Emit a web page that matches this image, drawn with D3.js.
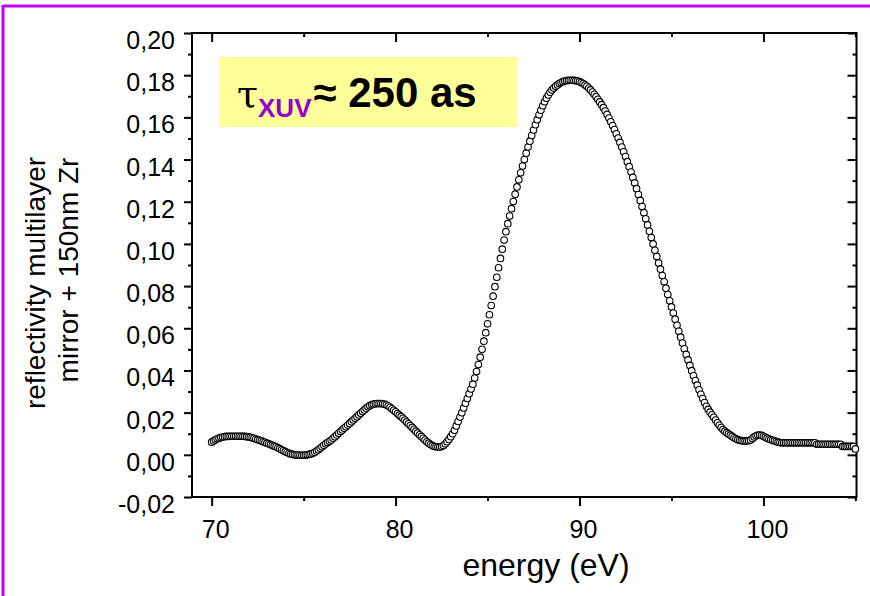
<!DOCTYPE html>
<html><head><meta charset="utf-8">
<script src="https://cdn.jsdelivr.net/npm/d3@7"></script>
<style>
body{margin:0;background:#fff}
svg{display:block}
text{font-family:"Liberation Sans",Arial,Helvetica,sans-serif;fill:#000}
</style>
</head><body><svg id="chart" width="870" height="596"></svg>
<script>
// ---- data ----
const energy = [
70.0,70.1,70.2,70.3,70.4,70.5,70.6,70.7,70.8,70.9,
71.0,71.1,71.2,71.3,71.4,71.5,71.6,71.7,71.8,71.9,
72.0,72.1,72.2,72.3,72.4,72.5,72.6,72.7,72.8,72.9,
73.0,73.1,73.2,73.3,73.4,73.5,73.6,73.7,73.8,73.9,
74.0,74.1,74.2,74.3,74.4,74.5,74.6,74.7,74.8,74.9,
75.0,75.1,75.2,75.3,75.4,75.5,75.6,75.7,75.8,75.9,
76.0,76.1,76.2,76.3,76.4,76.5,76.6,76.7,76.8,76.9,
77.0,77.1,77.2,77.3,77.4,77.5,77.6,77.7,77.8,77.9,
78.0,78.1,78.2,78.3,78.4,78.5,78.6,78.7,78.8,78.9,
79.0,79.1,79.2,79.3,79.4,79.5,79.6,79.7,79.8,79.9,
80.0,80.1,80.2,80.3,80.4,80.5,80.6,80.7,80.8,80.9,
81.0,81.1,81.2,81.3,81.4,81.5,81.6,81.7,81.8,81.9,
82.0,82.1,82.2,82.3,82.4,82.5,82.6,82.7,82.8,82.9,
83.0,83.1,83.2,83.3,83.4,83.5,83.6,83.7,83.8,83.9,
84.0,84.1,84.2,84.3,84.4,84.5,84.6,84.7,84.8,84.9,
85.0,85.1,85.2,85.3,85.4,85.5,85.6,85.7,85.8,85.9,
86.0,86.1,86.2,86.3,86.4,86.5,86.6,86.7,86.8,86.9,
87.0,87.1,87.2,87.3,87.4,87.5,87.6,87.7,87.8,87.9,
88.0,88.1,88.2,88.3,88.4,88.5,88.6,88.7,88.8,88.9,
89.0,89.1,89.2,89.3,89.4,89.5,89.6,89.7,89.8,89.9,
90.0,90.1,90.2,90.3,90.4,90.5,90.6,90.7,90.8,90.9,
91.0,91.1,91.2,91.3,91.4,91.5,91.6,91.7,91.8,91.9,
92.0,92.1,92.2,92.3,92.4,92.5,92.6,92.7,92.8,92.9,
93.0,93.1,93.2,93.3,93.4,93.5,93.6,93.7,93.8,93.9,
94.0,94.1,94.2,94.3,94.4,94.5,94.6,94.7,94.8,94.9,
95.0,95.1,95.2,95.3,95.4,95.5,95.6,95.7,95.8,95.9,
96.0,96.1,96.2,96.3,96.4,96.5,96.6,96.7,96.8,96.9,
97.0,97.1,97.2,97.3,97.4,97.5,97.6,97.7,97.8,97.9,
98.0,98.1,98.2,98.3,98.4,98.5,98.6,98.7,98.8,98.9,
99.0,99.1,99.2,99.3,99.4,99.5,99.6,99.7,99.8,99.9,
100.0,100.1,100.2,100.3,100.4,100.5,100.6,100.7,100.8,100.9,
101.0,101.1,101.2,101.3,101.4,101.5,101.6,101.7,101.8,101.9,
102.0,102.1,102.2,102.3,102.4,102.5,102.6,102.7,102.8,102.9,
103.0,103.1,103.2,103.3,103.4,103.5,103.6,103.7,103.8,103.9,
104.0,104.1,104.2,104.3,104.4,104.5,104.6,104.7,104.8,104.9,
105.0
];
const reflectivity = [
0.0060,0.0066,0.0071,0.0076,0.0079,0.0082,0.0084,0.0086,0.0087,0.0087,
0.0088,0.0088,0.0088,0.0088,0.0088,0.0088,0.0088,0.0088,0.0087,0.0086,
0.0085,0.0083,0.0081,0.0078,0.0075,0.0072,0.0069,0.0066,0.0062,0.0059,
0.0055,0.0052,0.0048,0.0045,0.0041,0.0038,0.0033,0.0029,0.0024,0.0020,
0.0015,0.0011,0.0007,0.0004,0.0002,0.0000,-0.0001,-0.0001,-0.0002,-0.0002,
-0.0002,-0.0001,0.0000,0.0002,0.0004,0.0007,0.0012,0.0018,0.0024,0.0031,
0.0038,0.0045,0.0052,0.0058,0.0064,0.0070,0.0078,0.0086,0.0094,0.0102,
0.0110,0.0118,0.0126,0.0133,0.0141,0.0149,0.0157,0.0165,0.0173,0.0181,
0.0189,0.0197,0.0205,0.0213,0.0221,0.0228,0.0233,0.0237,0.0240,0.0242,
0.0243,0.0243,0.0243,0.0242,0.0240,0.0236,0.0231,0.0225,0.0218,0.0211,
0.0204,0.0196,0.0188,0.0181,0.0173,0.0165,0.0156,0.0147,0.0139,0.0130,
0.0121,0.0112,0.0104,0.0095,0.0087,0.0078,0.0070,0.0062,0.0055,0.0049,
0.0044,0.0040,0.0038,0.0037,0.0037,0.0039,0.0044,0.0052,0.0062,0.0073,
0.0086,0.0100,0.0117,0.0137,0.0158,0.0179,0.0200,0.0222,0.0245,0.0267,
0.0290,0.0312,0.0335,0.0364,0.0395,0.0428,0.0463,0.0500,0.0539,0.0579,
0.0621,0.0664,0.0708,0.0752,0.0797,0.0842,0.0887,0.0931,0.0975,0.1018,
0.1058,0.1096,0.1132,0.1167,0.1201,0.1236,0.1270,0.1304,0.1337,0.1369,
0.1400,0.1430,0.1459,0.1487,0.1514,0.1540,0.1565,0.1589,0.1612,0.1634,
0.1655,0.1674,0.1691,0.1706,0.1719,0.1730,0.1739,0.1747,0.1754,0.1760,
0.1765,0.1769,0.1772,0.1774,0.1775,0.1776,0.1776,0.1775,0.1774,0.1772,
0.1769,0.1765,0.1760,0.1754,0.1747,0.1739,0.1730,0.1720,0.1709,0.1698,
0.1686,0.1673,0.1660,0.1646,0.1630,0.1614,0.1597,0.1579,0.1561,0.1542,
0.1522,0.1502,0.1481,0.1459,0.1437,0.1414,0.1390,0.1366,0.1341,0.1315,
0.1289,0.1262,0.1234,0.1206,0.1177,0.1148,0.1119,0.1090,0.1060,0.1030,
0.1000,0.0970,0.0940,0.0910,0.0880,0.0850,0.0820,0.0790,0.0760,0.0730,
0.0701,0.0672,0.0643,0.0614,0.0586,0.0558,0.0530,0.0503,0.0476,0.0450,
0.0424,0.0399,0.0375,0.0352,0.0330,0.0308,0.0287,0.0267,0.0248,0.0230,
0.0215,0.0202,0.0190,0.0178,0.0165,0.0152,0.0140,0.0129,0.0120,0.0112,
0.0105,0.0099,0.0093,0.0087,0.0081,0.0076,0.0072,0.0069,0.0067,0.0066,
0.0066,0.0066,0.0067,0.0070,0.0077,0.0085,0.0090,0.0093,0.0094,0.0092,
0.0088,0.0083,0.0079,0.0075,0.0072,0.0069,0.0066,0.0063,0.0060,0.0058,
0.0057,0.0057,0.0057,0.0057,0.0057,0.0057,0.0057,0.0057,0.0057,0.0057,
0.0057,0.0057,0.0057,0.0057,0.0057,0.0057,0.0057,0.0057,0.0057,0.0050,
0.0050,0.0050,0.0050,0.0050,0.0050,0.0050,0.0050,0.0050,0.0050,0.0050,
0.0050,0.0050,0.0050,0.0040,0.0040,0.0040,0.0040,0.0040,0.0040,0.0040,
0.0028
];
const xMajorTicks = [70, 80, 90, 100];
const xMinorTicks = [75, 85, 95, 105];
const yMajorTicks = [-0.02, 0.00, 0.02, 0.04, 0.06, 0.08, 0.10, 0.12, 0.14, 0.16, 0.18, 0.20];
const yMinorTicks = [-0.01, 0.01, 0.03, 0.05, 0.07, 0.09, 0.11, 0.13, 0.15, 0.17, 0.19];
const xTitle = "energy (eV)";
const yTitleLines = ["reflectivity multilayer", "mirror + 150nm Zr"];
const annotation = { tau: "\u03C4", sub: "XUV", rest: "\u2248 250 as" };

// ---- layout ----
const svg = d3.select("#chart");
const plot = { left: 192, right: 856.5, top: 33, bottom: 497 };
const x = d3.scaleLinear().domain([68.93, 105.06]).range([plot.left, plot.right]);
const y = d3.scaleLinear().domain([-0.02, 0.20]).range([plot.bottom, plot.top]);
const fmt = d => d.toFixed(2).replace(".", ",");

svg.append("rect").attr("width", 870).attr("height", 596).attr("fill", "#fff");

// purple slide frame
svg.append("line").attr("x1", 3).attr("x2", 870).attr("y1", 6).attr("y2", 6)
  .attr("stroke", "#c400f2").attr("stroke-width", 3);
svg.append("line").attr("x1", 3).attr("x2", 3).attr("y1", 5).attr("y2", 596)
  .attr("stroke", "#c400f2").attr("stroke-width", 3);

// annotation box
svg.append("rect").attr("x", 219).attr("y", 57).attr("width", 298).attr("height", 70)
  .attr("fill", "#ffff99");
const ann = svg.append("text").attr("x", 237).attr("y", 107);
ann.append("tspan").text(annotation.tau)
  .style("font-family", "'DejaVu Serif','Liberation Serif',serif").style("font-size", "38px");
ann.append("tspan").text(annotation.sub).attr("dy", 10)
  .style("font-size", "26px").style("font-weight", "bold").style("fill", "#9900cc");
ann.append("tspan").text(annotation.rest).attr("dy", -10).attr("dx", 2)
  .style("font-size", "42px").style("font-weight", "bold");

// axes
function styleAxis(g) {
  g.select(".domain").remove();
  g.selectAll(".tick line").attr("stroke", "#000").attr("stroke-width", 2);
  g.selectAll("text").style("font-size", "25px").attr("fill", "#000")
    .style("font-family", "'Liberation Sans',Arial,sans-serif");
}
// left
svg.append("g").attr("transform", `translate(${plot.left},0)`)
  .call(d3.axisLeft(y).tickValues(yMajorTicks).tickSize(8).tickPadding(9).tickFormat(fmt))
  .call(styleAxis)
  .call(g => g.selectAll("text").attr("dy", "0.62em"));
svg.append("g").attr("transform", `translate(${plot.left},0)`)
  .call(d3.axisLeft(y).tickValues(yMinorTicks).tickSize(4).tickFormat(""))
  .call(styleAxis);
// right (inward)
svg.append("g").attr("transform", `translate(${plot.right},0)`)
  .call(d3.axisRight(y).tickValues(yMajorTicks).tickSize(-9).tickFormat(""))
  .call(styleAxis);
svg.append("g").attr("transform", `translate(${plot.right},0)`)
  .call(d3.axisRight(y).tickValues(yMinorTicks).tickSize(-4).tickFormat(""))
  .call(styleAxis);
// bottom
svg.append("g").attr("transform", `translate(0,${plot.bottom})`)
  .call(d3.axisBottom(x).tickValues(xMajorTicks).tickSize(9).tickPadding(14).tickFormat(d3.format("d")))
  .call(styleAxis)
  .call(g => g.selectAll("text").attr("dx", 3.5));
svg.append("g").attr("transform", `translate(0,${plot.bottom})`)
  .call(d3.axisBottom(x).tickValues(xMinorTicks).tickSize(4).tickFormat(""))
  .call(styleAxis);
// top (inward)
svg.append("g").attr("transform", `translate(0,${plot.top})`)
  .call(d3.axisTop(x).tickValues(xMajorTicks).tickSize(-9).tickFormat(""))
  .call(styleAxis);
svg.append("g").attr("transform", `translate(0,${plot.top})`)
  .call(d3.axisTop(x).tickValues(xMinorTicks).tickSize(-4).tickFormat(""))
  .call(styleAxis);

// frame
svg.append("rect").attr("x", plot.left).attr("y", plot.top)
  .attr("width", plot.right - plot.left).attr("height", plot.bottom - plot.top)
  .attr("fill", "none").attr("stroke", "#000").attr("stroke-width", 2);

// titles
svg.append("text").attr("x", 546).attr("y", 576).attr("text-anchor", "middle")
  .style("font-size", "32px").text(xTitle);
svg.append("text").attr("transform", "translate(45,283) rotate(-90)").attr("text-anchor", "middle")
  .style("font-size", "28px").text(yTitleLines[0]);
svg.append("text").attr("transform", "translate(78,270) rotate(-90)").attr("text-anchor", "middle")
  .style("font-size", "28px").text(yTitleLines[1]);

// data points
const pts = energy.map((e, i) => ({ e, r: reflectivity[i] }));
svg.append("g").selectAll("circle").data(pts).join("circle")
  .attr("cx", d => x(d.e)).attr("cy", d => y(d.r)).attr("r", 3.3)
  .attr("fill", "#fff").attr("stroke", "#000").attr("stroke-width", 1.1);
</script>
</body></html>
